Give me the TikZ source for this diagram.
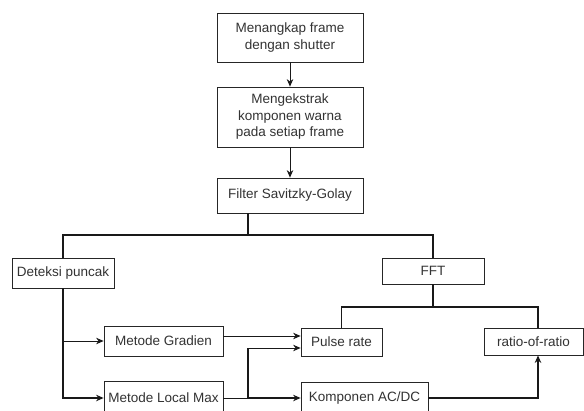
\documentclass[tikz,border=0pt]{standalone}
\usepackage{fontspec}
\setmainfont{Liberation Sans}
\usetikzlibrary{arrows.meta}
\begin{document}
\begin{tikzpicture}[x=1pt,y=-1pt,
  box/.style={draw=black!85,line width=0.8pt,fill=white,inner sep=0pt,align=center,
    font=\fontsize{13.5}{16.5}\selectfont,text=black!80},
  thk/.style={line width=1.4pt,draw=black!90},
  thn/.style={line width=0.8pt,draw=black!90},
  arr/.style={-{Stealth[length=7.5pt,width=6.5pt]}}]
\fill[white] (0,0) rectangle (584,410);
\useasboundingbox (0,0) rectangle (584,410);
\node[box,minimum width=146pt,minimum height=49pt] (b1) at (290,37.5) {Menangkap frame\\dengan shutter};
\node[box,minimum width=146pt,minimum height=60pt] (b2) at (290,117) {Mengekstrak\\komponen warna\\pada setiap frame};
\node[box,minimum width=146pt,minimum height=35pt] (b3) at (290,195.5) {Filter Savitzky-Golay};
\node[box,minimum width=102pt,minimum height=30pt] (det) at (63,273) {Deteksi puncak};
\node[box,minimum width=102pt,minimum height=26pt] (fft) at (433,271) {FFT};
\node[box,minimum width=119pt,minimum height=30pt] (grad) at (163.5,341) {Metode Gradien};
\node[box,minimum width=119pt,minimum height=34pt] (lmax) at (163.5,398) {Metode Local Max};
\node[box,minimum width=81pt,minimum height=28pt] (pulse) at (341.5,342) {Pulse rate};
\node[box,minimum width=99pt,minimum height=27pt] (ratio) at (533.5,341.5) {ratio-of-ratio};
\node[box,minimum width=127pt,minimum height=32pt] (komp) at (364.5,398) {Komponen AC/DC};
\coordinate (j1) at (248,235);
\coordinate (j2) at (248,398);
\coordinate (j3) at (433,307);
\coordinate (p1) at ([yshift=6pt]pulse.west);
\coordinate (p2) at ([yshift=-6pt]pulse.west);
\draw[thn,arr] (b1) -- (b2);
\draw[thn,arr] (b2) -- (b3);
\draw[thk] (b3.south -| j1) -- (j1);
\draw[thk] (det.north) |- (j1) -| (fft.north);
\draw[thk,arr] (det.south) |- (lmax.west);
\draw[thn,arr] (det.south |- grad.west) -- (grad.west);
\draw[thn,arr] (grad.east |- p1) -- (p1);
\draw[thn] (lmax.east) -- (j2);
\draw[thk] (j2) -- (j2 |- p2);
\draw[thn,arr] (j2 |- p2) -- (p2);
\draw[line width=1.1pt,draw=black!90,arr] (j2) -- (komp.west);
\draw[thk,arr] (komp.east) -| ([xshift=4.5pt]ratio.south);
\draw[thk] (fft.south) -- (j3);
\draw[thk] (pulse.north) |- (j3) -| ([xshift=4.5pt]ratio.north);
\end{tikzpicture}
\end{document}
